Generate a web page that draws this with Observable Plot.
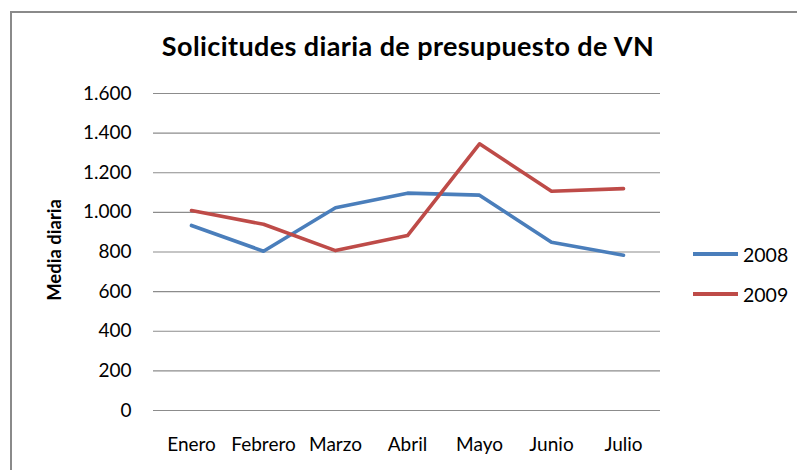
<!DOCTYPE html>
<html>
<head>
<meta charset="utf-8">
<script src="https://cdn.jsdelivr.net/npm/d3@7"></script>
<script src="https://cdn.jsdelivr.net/npm/@observablehq/plot@0.6"></script>
<style>
  body { margin: 0; background: #fff; font-family: Lato, "Open Sans", sans-serif; }
  #wrap { position: relative; width: 797px; height: 470px; overflow: hidden; }
  #frame { position: absolute; left: 10px; top: 11px; width: 820px; height: 520px;
           border-left: 2px solid #8a8a8a; border-top: 2px solid #8a8a8a; }
  #title { position: absolute; left: 133px; width: 550px; top: 29px; text-align: center;
           font-size: 27px; letter-spacing: 0.4px; font-weight: bold; color: #000; white-space: nowrap; }
  #ylab { position: absolute; left: 54px; top: 250px; transform: translate(-50%, -50%) rotate(-90deg);
          font-size: 18.5px; font-weight: bold; color: #000; white-space: nowrap; }
  #chart { position: absolute; left: 0; top: 0; }
  #legend { position: absolute; left: 693px; top: 0; font-size: 19.5px; color: #000; }
  .item { position: absolute; left: 0; display: flex; align-items: center; white-space: nowrap; }
  .sw { width: 45px; height: 4px; margin-right: 5px; }
</style>
</head>
<body>
<div id="wrap">
  <div id="frame"></div>
  <div id="chart"></div>
  <div id="title">Solicitudes diaria de presupuesto de VN</div>
  <div id="ylab">Media diaria</div>
  <div id="legend"></div>
</div>
<script>
const months = ["Enero", "Febrero", "Marzo", "Abril", "Mayo", "Junio", "Julio"];
const values2008 = [934, 804, 1023, 1097, 1087, 849, 784];
const values2009 = [1009, 940, 807, 883, 1346, 1107, 1120];
const seriesNames = ["2008", "2009"];
const seriesColors = ["#4a7ebb", "#be4b48"];
const yTicks = [0, 200, 400, 600, 800, 1000, 1200, 1400, 1600];

const rows = [];
months.forEach((m, i) => {
  rows.push({month: m, value: values2008[i], serie: seriesNames[0]});
  rows.push({month: m, value: values2009[i], serie: seriesNames[1]});
});

const esLocale = d3.formatLocale({decimal: ",", thousands: ".", grouping: [3], currency: ["", " €"]});
const fmt = esLocale.format(",d");

const chart = Plot.plot({
  width: 797,
  height: 470,
  marginLeft: 153,
  marginRight: 137,
  marginTop: 93,
  marginBottom: 60,
  style: {fontFamily: "Lato, 'Open Sans', sans-serif", fontSize: "19px", color: "#000", background: "transparent"},
  x: {type: "point", domain: months, padding: 0.5, label: null},
  y: {domain: [0, 1600], label: null},
  color: {domain: seriesNames, range: seriesColors},
  marks: [
    Plot.ruleY(yTicks, {stroke: "#8c8c8c", strokeWidth: 1.2, strokeOpacity: 1}),
    Plot.axisY({ticks: yTicks, tickSize: 0, tickPadding: 22, tickFormat: fmt, label: null, fontSize: 19}),
    Plot.axisX({tickSize: 0, tickPadding: 27, label: null, fontSize: 19}),
    Plot.line(rows, {x: "month", y: "value", z: "serie", stroke: "serie", strokeWidth: 3.6, curve: "linear"})
  ]
});
document.getElementById("chart").appendChild(chart);

const legend = document.getElementById("legend");
const legendY = [254, 294];
seriesNames.forEach((s, i) => {
  const it = document.createElement("div");
  it.className = "item";
  it.style.top = (legendY[i] - 12) + "px";
  it.style.height = "24px";
  it.innerHTML = `<div class="sw" style="background:${seriesColors[i]}"></div><span>${s}</span>`;
  legend.appendChild(it);
});
</script>
</body>
</html>
